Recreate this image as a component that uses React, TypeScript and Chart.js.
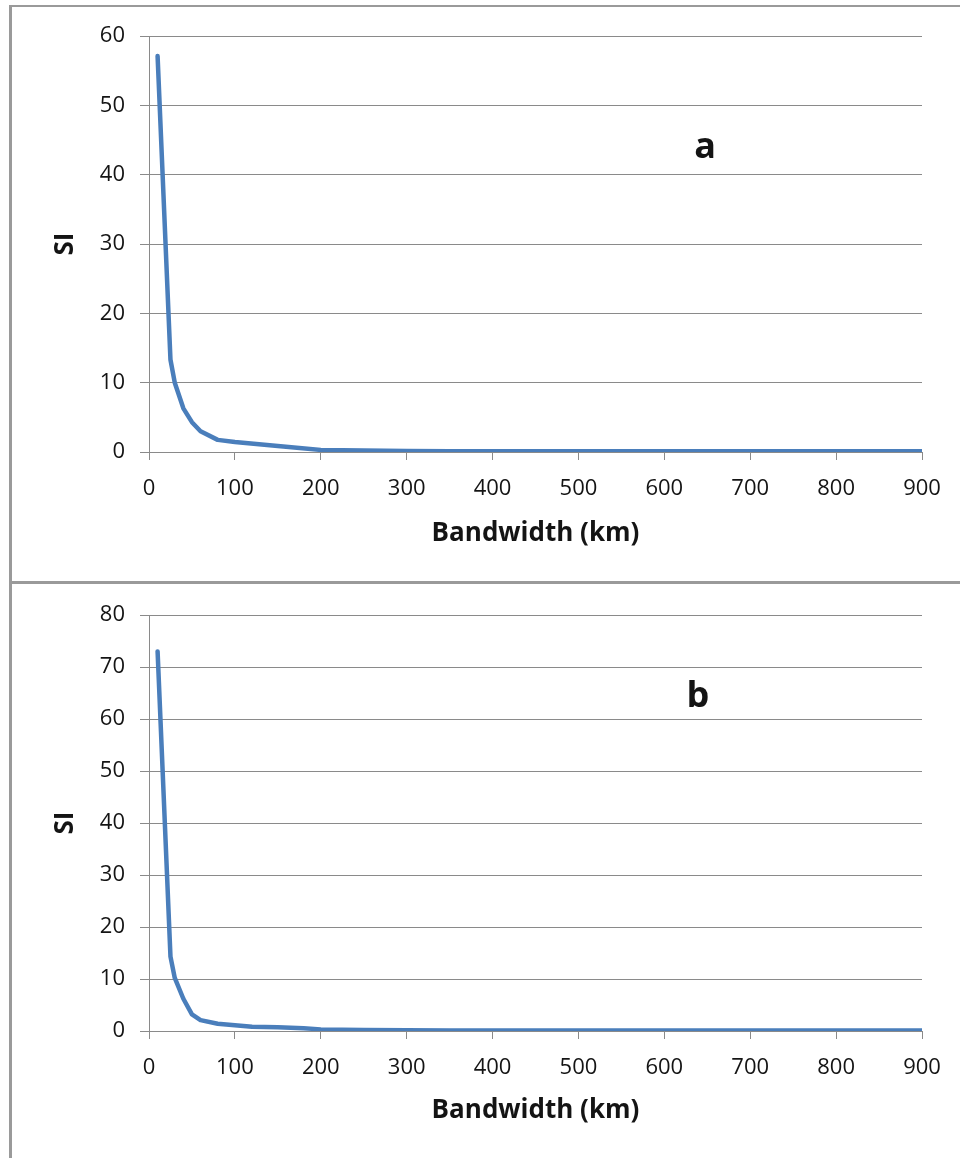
import React, { useEffect, useRef } from "react";
import { Chart, registerables } from "chart.js";

Chart.register(...registerables);

// ---- data ----
const bandwidthA = [10, 25, 30, 40, 50, 60, 80, 100, 150, 200, 250, 300, 350, 400, 500, 600, 700, 800, 900];
const siA = [57.1, 13.3, 10.0, 6.3, 4.3, 3.0, 1.75, 1.45, 0.85, 0.3, 0.2, 0.15, 0.12, 0.1, 0.1, 0.1, 0.1, 0.1, 0.1];

const bandwidthB = [10, 25, 30, 40, 50, 60, 80, 100, 120, 150, 180, 200, 250, 300, 350, 400, 500, 600, 700, 800, 900];
const siB = [73.0, 14.3, 10.2, 6.2, 3.2, 2.1, 1.4, 1.1, 0.8, 0.7, 0.55, 0.3, 0.2, 0.15, 0.1, 0.1, 0.1, 0.1, 0.1, 0.1, 0.1];

const xTickStep = 100;
const xMin = 0;
const xMax = 900;
const yMaxA = 60;
const yMaxB = 80;
const yTickStep = 10;

const xTitle = "Bandwidth (km)";
const yTitle = "SI";
const panelLabelA = "a";
const panelLabelB = "b";

const FONT = "'Open Sans', 'DejaVu Sans', sans-serif";
const GRID = "#8a8a8a";
const TEXT = "#141414";
const LINE = "#4a7ebb";

type PanelProps = {
  xs: number[];
  ys: number[];
  yMax: number;
  height: number;
  padTop: number;
  padBottom: number;
  plotBottom: number;
};

function Panel({ xs, ys, yMax, height, padTop, padBottom, plotBottom }: PanelProps) {
  const ref = useRef<HTMLCanvasElement | null>(null);
  useEffect(() => {
    if (!ref.current) return;
    const padLeft = 50;
    const yAxisWidth = 149 - padLeft;
    const xAxisHeight = height - padBottom - plotBottom;
    const chart = new Chart(ref.current, {
      type: "scatter",
      data: {
        datasets: [
          {
            data: xs.map((x, i) => ({ x, y: ys[i] })),
            showLine: true,
            borderColor: LINE,
            backgroundColor: LINE,
            borderWidth: 4.5,
            pointRadius: 0,
            pointHoverRadius: 0,
            tension: 0,
            borderJoinStyle: "round",
            borderCapStyle: "round",
          },
        ],
      },
      options: {
        responsive: false,
        animation: false,
        devicePixelRatio: 1,
        layout: { padding: { left: padLeft, top: padTop, right: 38, bottom: padBottom } },
        plugins: { legend: { display: false }, tooltip: { enabled: false }, title: { display: false } },
        scales: {
          x: {
            type: "linear",
            min: xMin,
            max: xMax,
            afterFit: (s: any) => {
              s.height = xAxisHeight;
            },
            ticks: {
              stepSize: xTickStep,
              color: TEXT,
              font: { family: FONT, size: 22 },
              padding: 16,
              maxRotation: 0,
            },
            grid: {
              drawOnChartArea: false,
              drawTicks: true,
              tickLength: 8,
              color: GRID,
              lineWidth: 1,
            },
            border: { display: true, color: GRID, width: 1 },
            title: {
              display: true,
              text: xTitle,
              color: TEXT,
              font: { family: FONT, size: 26, weight: "bold" },
              padding: 0,
            },
          },
          y: {
            type: "linear",
            min: 0,
            max: yMax,
            afterFit: (s: any) => {
              s.width = yAxisWidth;
            },
            ticks: {
              stepSize: yTickStep,
              color: TEXT,
              font: { family: FONT, size: 22 },
              padding: 15,
            },
            grid: {
              drawOnChartArea: true,
              drawTicks: true,
              tickLength: 9,
              color: GRID,
              lineWidth: 1,
            },
            border: { display: true, color: GRID, width: 1 },
            title: {
              display: true,
              text: yTitle,
              color: TEXT,
              font: { family: FONT, size: 26, weight: "bold" },
              padding: 0,
            },
          },
        },
      },
    });
    return () => chart.destroy();
  }, []);
  return <canvas ref={ref} width={960} height={height} style={{ display: "block", width: 960, height }} />;
}

export default function App() {
  const labelStyle: React.CSSProperties = {
    position: "absolute",
    fontFamily: FONT,
    fontWeight: 700,
    fontSize: 36,
    color: TEXT,
    transform: "translate(-50%, -50%)",
    lineHeight: 1,
  };
  return (
    <div
      style={{
        position: "absolute",
        left: 0,
        top: 0,
        width: 960,
        height: 1158,
        background: "#fff",
        overflow: "hidden",
      }}
    >
      <div style={{ position: "absolute", left: 0, top: 0 }}>
        <Panel xs={bandwidthA} ys={siA} yMax={yMaxA} height={580} padTop={36} padBottom={31} plotBottom={452} />
      </div>
      <div style={{ position: "absolute", left: 0, top: 584 }}>
        <Panel xs={bandwidthB} ys={siB} yMax={yMaxB} height={574} padTop={31} padBottom={32} plotBottom={447} />
      </div>
      <div style={{ ...labelStyle, left: 705, top: 145 }}>{panelLabelA}</div>
      <div style={{ ...labelStyle, left: 698, top: 694 }}>{panelLabelB}</div>
      {/* frame lines */}
      <div style={{ position: "absolute", left: 9, top: 5, width: 951, height: 2, background: "#9a9a9a" }} />
      <div style={{ position: "absolute", left: 9, top: 5, width: 3, height: 1153, background: "#9a9a9a" }} />
      <div style={{ position: "absolute", left: 9, top: 581, width: 951, height: 3, background: "#9a9a9a" }} />
    </div>
  );
}
